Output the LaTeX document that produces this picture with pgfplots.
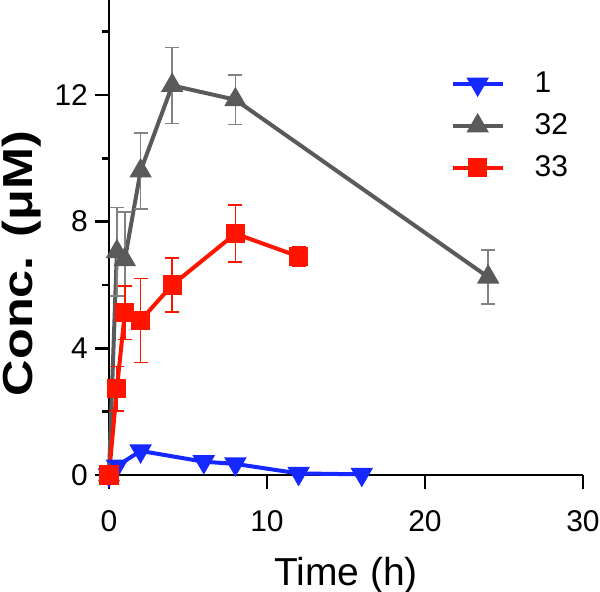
\documentclass[border=0pt]{standalone}
\usepackage{fontspec}
\setmainfont{Liberation Sans}
\newfontfamily\ylabfont[FakeStretch=1.2]{Liberation Sans}
\usepackage{pgfplots}
\pgfplotsset{compat=1.18}
\definecolor{cblue}{RGB}{20,40,255}
\definecolor{cgray}{RGB}{90,90,90}
\definecolor{cgrayerr}{RGB}{130,130,130}
\definecolor{cred}{RGB}{255,20,0}
\begin{document}
\begin{tikzpicture}
\begin{axis}[
  scale only axis,
  width=237pt, height=237.5pt,
  xmin=0, xmax=30, ymin=0, ymax=15,
  axis lines=left,
  axis line style={line width=1.2pt, -},
  xtick={0,10,20,30},
  ytick={0,4,8,12},
  minor ytick={2,6,10,14},
  tick align=outside,
  major tick length=7pt,
  minor tick length=3.5pt,
  tick style={line width=1.2pt, black},
  /pgf/number format/assume math mode=true,
  ticklabel style={font=\fontsize{15}{18}\selectfont},
  xticklabel style={yshift=-7pt},
  xlabel={Time (h)},
  ylabel={\ylabfont\bfseries Conc. (μM)},
  xlabel style={font=\fontsize{19.5}{23}\selectfont, at={(rel axis cs:0.5,0)}, anchor=center, yshift=-50pt},
  ylabel style={font=\fontsize{21}{25}\selectfont, at={(rel axis cs:0,0.445)}, anchor=center, yshift=43.5pt},
  clip=false,
  legend style={draw=none, fill=none, at={(rel axis cs:0.72,0.857)}, anchor=north west,
    font=\fontsize{15}{18}\selectfont, row sep=5pt, column sep=13pt, inner sep=0pt},
  legend cell align=left,
  legend image code/.code={
    \draw[mark repeat=2,mark phase=2,#1] plot coordinates {(0pt,0pt) (12.5pt,0pt) (25pt,0pt)};
  },
]
\addplot[color=cblue, line width=2pt, mark=triangle*, mark size=4.5pt, mark options={rotate=180, solid}]
  coordinates {(0,0) (0.5,0.28) (2,0.76) (6,0.42) (8,0.35) (12,0.05) (16,0.02)};
\addlegendentry{1}
\addplot[color=cgray, line width=2pt, mark=triangle*, mark size=4.5pt, mark options={solid},
  error bars/.cd, y dir=both, y explicit,
  error bar style={line width=0.8pt, color=cgrayerr},
  error mark options={rotate=90, mark size=3.5pt, line width=0.8pt, color=cgrayerr}]
  coordinates {(0,0) +- (0,0)
    (0.5,7.05) +- (0,1.4)
    (1,6.8) +- (0,1.5)
    (2,9.6) +- (0,1.2)
    (4,12.3) +- (0,1.2)
    (8,11.85) +- (0,0.78)
    (24,6.25) +- (0,0.85)};
\addlegendentry{32}
\addplot[color=cred, line width=2pt, mark=square*, mark size=3.8pt, mark options={solid},
  error bars/.cd, y dir=both, y explicit,
  error bar style={line width=0.8pt, color=cred},
  error mark options={rotate=90, mark size=3.5pt, line width=0.8pt, color=cred}]
  coordinates {(0,0) +- (0,0)
    (0.5,2.73) +- (0,0.7)
    (1,5.12) +- (0,0.84)
    (2,4.88) +- (0,1.33)
    (4,6.0) +- (0,0.86)
    (8,7.62) +- (0,0.9)
    (12,6.9) +- (0,0.3)};
\addlegendentry{33}
\end{axis}
\pgfresetboundingbox
\path (-54.5pt,-58.5pt) rectangle (245.5pt,237.5pt);
\end{tikzpicture}
\end{document}
